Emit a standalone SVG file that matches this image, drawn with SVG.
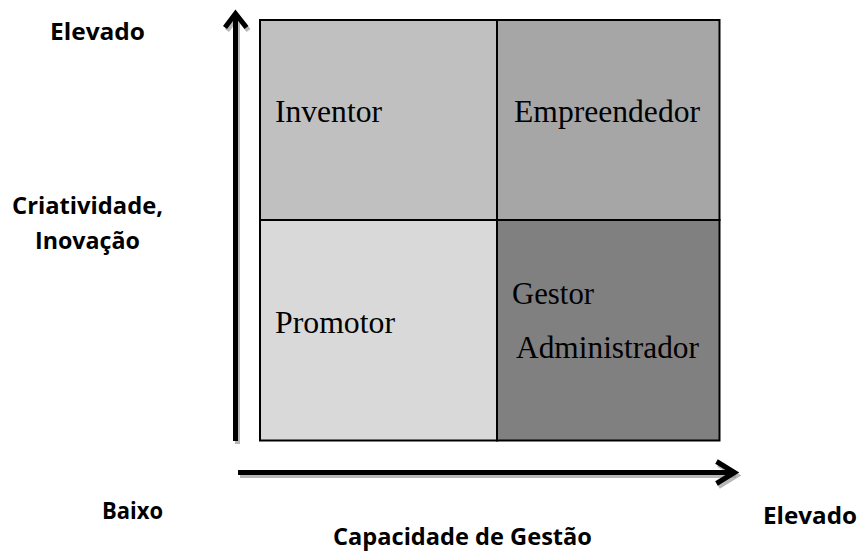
<svg xmlns="http://www.w3.org/2000/svg" width="859" height="552" viewBox="0 0 859 552">
<style>
.cell{stroke:#000;stroke-width:2}
.q{font-family:"Liberation Serif","Times New Roman",serif;font-size:32px;fill:#000}
.ax{font-family:"Open Sans","Liberation Sans",sans-serif;font-weight:bold;font-size:24px;fill:#000}
.arrow{fill:none;stroke:#000;stroke-width:5;stroke-linecap:butt;stroke-linejoin:miter}
.shadow{fill:none;stroke:#9a9a9a;stroke-width:5;opacity:0.7}
</style>
<rect width="859" height="552" fill="#fff"/>
<g id="connectors">
<g id="shadows" transform="translate(2,3)">
<path class="shadow" d="M235.5,441 V14"/>
<path class="shadow" d="M225,27.5 L235.5,13.5 L246.5,27.5"/>
<path class="shadow" d="M238,472.5 H734"/>
<path class="shadow" d="M716.5,461.5 L734.5,472.5 L716.5,483.5"/>
</g>
<path id="y-axis" class="arrow" d="M235.5,441 V14"/>
<path class="arrow" d="M225,27.5 L235.5,13.5 L246.5,27.5"/>
<path id="x-axis" class="arrow" d="M238,472.5 H734"/>
<path class="arrow" d="M716.5,461.5 L734.5,472.5 L716.5,483.5"/>
</g>
<g id="inventor">
<rect class="cell" x="260" y="20" width="237" height="200" fill="#c0c0c0"/>
<text class="q" x="275" y="122" textLength="107" lengthAdjust="spacingAndGlyphs">Inventor</text>
</g>
<g id="empreendedor">
<rect class="cell" x="497" y="20" width="222.5" height="200" fill="#a6a6a6"/>
<text class="q" x="514" y="122" textLength="186" lengthAdjust="spacingAndGlyphs">Empreendedor</text>
</g>
<g id="promotor">
<rect class="cell" x="260" y="220" width="237" height="220.5" fill="#d9d9d9"/>
<text class="q" x="275" y="333" textLength="120" lengthAdjust="spacingAndGlyphs">Promotor</text>
</g>
<g id="gestor">
<rect class="cell" x="497" y="220" width="222.5" height="220.5" fill="#808080"/>
<text class="q" x="512" y="304" textLength="82" lengthAdjust="spacingAndGlyphs">Gestor</text>
<text class="q" x="516" y="358" textLength="183" lengthAdjust="spacingAndGlyphs">Administrador</text>
</g>
<g id="labels">
<text class="ax" x="50" y="40" textLength="95" lengthAdjust="spacingAndGlyphs">Elevado</text>
<text class="ax" x="12" y="214" textLength="151" lengthAdjust="spacingAndGlyphs">Criatividade,</text>
<text class="ax" x="35" y="249" textLength="105" lengthAdjust="spacingAndGlyphs">Inovação</text>
<text class="ax" x="102" y="519" textLength="61" lengthAdjust="spacingAndGlyphs">Baixo</text>
<text class="ax" x="333" y="545" textLength="259" lengthAdjust="spacingAndGlyphs">Capacidade de Gestão</text>
<text class="ax" x="763" y="524" textLength="94" lengthAdjust="spacingAndGlyphs">Elevado</text>
</g>
</svg>
